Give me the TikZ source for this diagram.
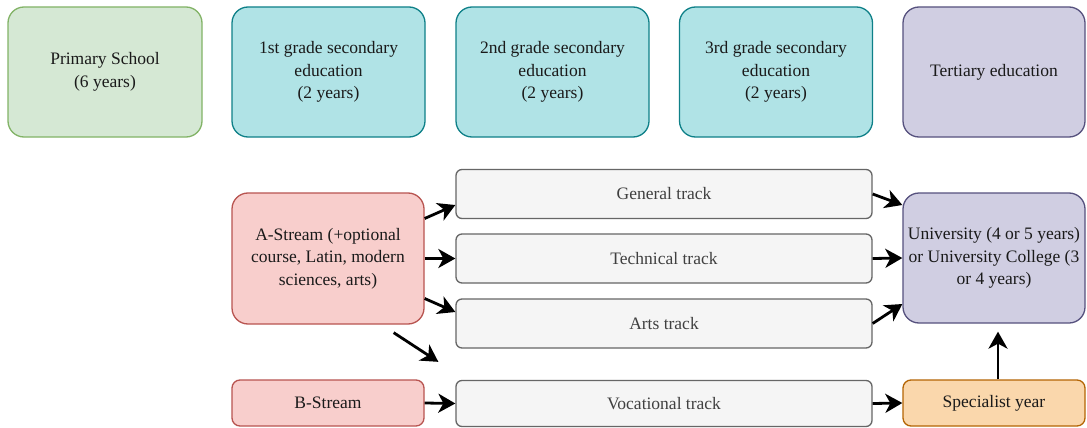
\documentclass[tikz,border=0pt]{standalone}
\usepackage{fontspec}
\setmainfont{Liberation Serif}
\usetikzlibrary{arrows.meta}
\definecolor{gfill}{HTML}{D5E8D4}\definecolor{gdraw}{HTML}{82B366}
\definecolor{tfill}{HTML}{B0E3E6}\definecolor{tdraw}{HTML}{0E8088}
\definecolor{pfill}{HTML}{D0CEE2}\definecolor{pdraw}{HTML}{56517E}
\definecolor{rfill}{HTML}{F8CECC}\definecolor{rdraw}{HTML}{B85450}
\definecolor{kfill}{HTML}{F5F5F5}\definecolor{kdraw}{HTML}{666666}\definecolor{ktext}{HTML}{404040}
\definecolor{ofill}{HTML}{FAD7AC}\definecolor{odraw}{HTML}{B46504}
\definecolor{txt}{HTML}{1A1A1A}
\tikzset{
  box/.style={rectangle, line width=1.3pt, align=center, inner sep=0pt, text=txt,
    font=\fontsize{17.5}{22.5}\selectfont},
  bigbox/.style={box, rounded corners=16pt, minimum height=130pt},
  grn/.style={bigbox, fill=gfill, draw=gdraw, minimum width=194pt},
  teal/.style={bigbox, fill=tfill, draw=tdraw, minimum width=193pt},
  purp/.style={bigbox, fill=pfill, draw=pdraw, minimum width=182pt},
  redbox/.style={box, fill=rfill, draw=rdraw, minimum width=192pt},
  track/.style={box, rounded corners=6pt, fill=kfill, draw=kdraw, text=ktext, minimum width=416pt, minimum height=49pt},
  orng/.style={box, rounded corners=8pt, fill=ofill, draw=odraw, minimum width=182pt, minimum height=46pt},
  conn/.style={line width=2.8pt, -{Stealth[length=17pt,width=19pt,inset=5pt]}, black}
}
\begin{document}
\begin{tikzpicture}[x=1pt,y=-1pt]
\useasboundingbox (0,0) rectangle (1087,428);
\fill[white] (0,0) rectangle (1087,428);
% top row
\node[grn] (prim) at (105,72) {Primary School\\(6 years)};
\node[teal] (g1) at (328.5,72) {1st grade secondary\\education\\(2 years)};
\node[teal] (g2) at (552.5,72) {2nd grade secondary\\education\\(2 years)};
\node[teal] (g3) at (776,72) {3rd grade secondary\\education\\(2 years)};
\node[purp] (tert) at (994,72) {Tertiary education};
% streams
\node[redbox, rounded corners=16pt, minimum height=131pt] (astr) at (328,258.5) {A-Stream (+optional\\course, Latin, modern\\sciences, arts)};
\node[redbox, rounded corners=8pt, minimum height=46pt] (bstr) at (328,403) {B-Stream};
% tracks
\node[track] (gen) at (664,194) {General track};
\node[track] (tech) at (664,258.5) {Technical track};
\node[track] (arts) at (664,323.5) {Arts track};
\node[track, minimum height=46pt] (voc) at (664,403.5) {Vocational track};
% right
\node[purp] (univ) at (994,258) {University (4 or 5 years)\\or University College (3\\or 4 years)};
\node[orng] (spec) at (994,403) {Specialist year};
% connectors
\draw[conn] ([yshift=40pt]astr.east) -- ([yshift=-11pt]gen.west);
\draw[conn] (astr.east) -- (tech.west);
\draw[conn] ([yshift=-40pt]astr.east) -- ([yshift=11.5pt]arts.west);
\draw[conn] ([xshift=-31pt,yshift=-8pt]astr.south east) -- ([xshift=-17pt,yshift=18pt]voc.north west);
\draw[conn] (bstr.east) -- (voc.west);
\draw[conn] (gen.east) -- ([yshift=53pt]univ.west);
\draw[conn] (tech.east) -- (univ.west);
\draw[conn] (arts.east) -- ([yshift=-46pt]univ.west);
\draw[conn] (voc.east) -- (spec.west);
\draw[conn, shorten >=8pt] ([xshift=4pt]spec.north) -- ([xshift=4pt]univ.south);
\end{tikzpicture}
\end{document}
